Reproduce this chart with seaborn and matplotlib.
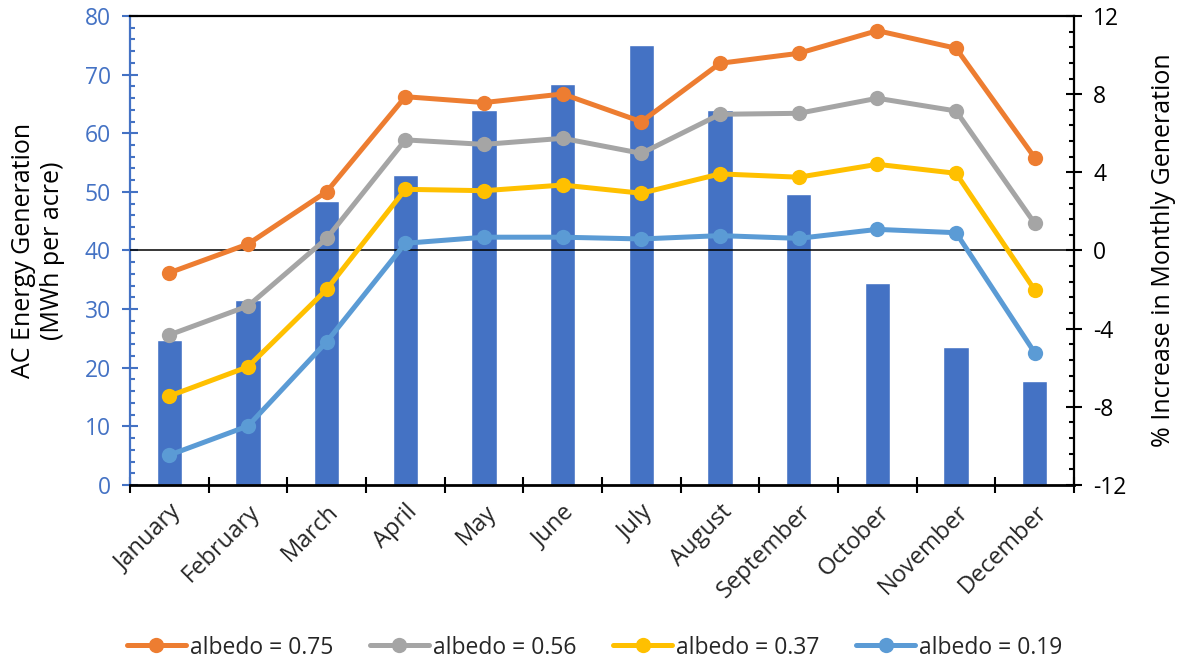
import numpy as np
import pandas as pd
import matplotlib
matplotlib.use("Agg")
import matplotlib.pyplot as plt
from matplotlib.ticker import MultipleLocator, FixedLocator, NullFormatter
import seaborn as sns

# ---- data -------------------------------------------------------------
months = ["January", "February", "March", "April", "May", "June", "July",
          "August", "September", "October", "November", "December"]

# monthly AC energy generation (MWh per acre)
generation = [24.7, 31.5, 48.4, 52.9, 64.0, 68.4, 75.0, 64.0, 49.6, 34.5, 23.6, 17.8]

# % increase in monthly generation for each albedo
albedo_labels = ["albedo = 0.75", "albedo = 0.56", "albedo = 0.37", "albedo = 0.19"]
pct_075 = [-1.14, 0.33, 3.01, 7.87, 7.57, 8.01, 6.59, 9.58, 10.09, 11.25, 10.35, 4.75]
pct_056 = [-4.32, -2.84, 0.62, 5.66, 5.43, 5.74, 4.97, 6.97, 7.02, 7.79, 7.14, 1.39]
pct_037 = [-7.45, -5.95, -1.99, 3.13, 3.06, 3.35, 2.93, 3.92, 3.75, 4.41, 3.95, -2.02]
pct_019 = [-10.47, -8.98, -4.67, 0.37, 0.68, 0.68, 0.59, 0.76, 0.62, 1.08, 0.91, -5.23]

# ---- styling ----------------------------------------------------------
bar_color = "#4472C4"
line_colors = ["#ED7D31", "#A5A5A5", "#FFC000", "#5B9BD5"]

sns.set_style("white")
plt.rcParams["font.family"] = ["Open Sans", "DejaVu Sans"]
plt.rcParams["axes.unicode_minus"] = False

fig = plt.figure(figsize=(11.77, 6.61), dpi=100)
ax = fig.add_axes([0.1105, 0.2663, 0.802, 0.7095])

# bars on the left axis
bar_df = pd.DataFrame({"month": months, "generation": generation})
sns.barplot(data=bar_df, x="month", y="generation", order=months, ax=ax,
            color=bar_color, saturation=1, width=0.32, zorder=2)
ax.set_xlim(-0.5, len(months) - 0.5)
ax.set_ylim(0, 80)

# lines on the right axis
ax2 = ax.twinx()
series = [pct_075, pct_056, pct_037, pct_019]
line_df = pd.concat(
    [pd.DataFrame({"pos": np.arange(len(months)), "pct": vals, "series": lab})
     for lab, vals in zip(albedo_labels, series)],
    ignore_index=True,
)
ax2.axhline(0, color="black", lw=1.1, zorder=1)
sns.lineplot(data=line_df, x="pos", y="pct", hue="series", hue_order=albedo_labels,
             palette=line_colors, marker="o", markersize=11, markeredgewidth=0,
             linewidth=3.6, ax=ax2, legend=False, zorder=3)
ax2.set_ylim(-12, 12)
ax2.set_xlim(-0.5, len(months) - 0.5)

# ---- axes decoration --------------------------------------------------
# left axis
ax.set_xlabel("")
ax.set_ylabel("AC Energy Generation\n(MWh per acre)", fontsize=18, color="black",
              labelpad=14, linespacing=1.2)
ax.yaxis.set_major_locator(MultipleLocator(10))
ax.yaxis.set_minor_locator(MultipleLocator(2))
ax.tick_params(axis="y", which="major", direction="inout", length=11.5, width=1.5,
               color=bar_color, labelcolor=bar_color, labelsize=16.5, pad=8)
ax.tick_params(axis="y", which="minor", direction="in", length=3.8, width=1.5,
               color=bar_color, left=True)

# category boundaries as crossing ticks, month names centred under the bars
ax.xaxis.set_major_locator(FixedLocator(np.arange(-0.5, len(months), 1.0)))
ax.xaxis.set_major_formatter(NullFormatter())
ax.xaxis.set_minor_locator(FixedLocator(np.arange(len(months))))
ax.set_xticks(np.arange(len(months)), labels=months, minor=True)
ax.tick_params(axis="x", which="major", direction="inout", length=11, width=1.5,
               color="black", bottom=True)
ax.tick_params(axis="x", which="minor", length=0, labelsize=17, pad=11)
for lbl in ax.get_xticklabels(minor=True):
    lbl.set_rotation(45)
    lbl.set_ha("right")
    lbl.set_rotation_mode("anchor")

ax.spines["left"].set_color(bar_color)
ax.spines["left"].set_linewidth(1.6)
for side in ("top", "bottom"):
    ax.spines[side].set_color("black")
    ax.spines[side].set_linewidth(1.6)
ax.spines["bottom"].set_linewidth(2)
ax.spines["right"].set_visible(False)

# right axis
ax2.set_xlabel("")
ax2.set_ylabel("% Increase in Monthly Generation", fontsize=18, color="black",
               labelpad=18)
ax2.yaxis.set_major_locator(MultipleLocator(4))
ax2.yaxis.set_minor_locator(MultipleLocator(0.8))
ax2.tick_params(axis="y", which="major", direction="inout", length=11.5, width=1.5,
                color="black", labelcolor="black", labelsize=16.5, pad=8)
ax2.tick_params(axis="y", which="minor", direction="in", length=3.8, width=1.5,
                color="black", right=True)
ax2.tick_params(axis="x", which="both", length=0)
ax2.spines["right"].set_color("black")
ax2.spines["right"].set_linewidth(1.6)
for side in ("left", "top", "bottom"):
    ax2.spines[side].set_visible(False)
ax2.grid(False)
ax.grid(False)

# ---- legend -----------------------------------------------------------
handles = [plt.Line2D([], [], color=c, lw=3.6, marker="o", markersize=11,
                      markeredgewidth=0) for c in line_colors]
fig.legend(handles, albedo_labels, loc="lower center", bbox_to_anchor=(0.505, -0.022),
           ncol=4, frameon=False, fontsize=16.5, handlelength=2.6,
           handletextpad=0.15, columnspacing=1.6, borderpad=0.2)

fig.savefig("out.png", dpi=100)
